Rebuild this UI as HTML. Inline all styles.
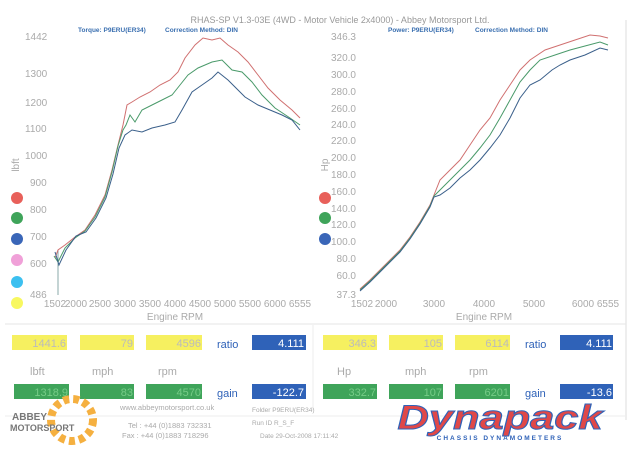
<!DOCTYPE html>
<html><head><meta charset="utf-8"><style>
body{margin:0;background:#fff;width:639px;height:452px;overflow:hidden;font-family:"Liberation Sans",sans-serif}
svg text{font-family:"Liberation Sans",sans-serif}
</style></head><body>
<svg width="639" height="452" viewBox="0 0 639 452" xmlns="http://www.w3.org/2000/svg">
<rect width="639" height="452" fill="#fff"/>
<line x1="626" y1="20" x2="626" y2="420" stroke="#ddd"/>
<line x1="313" y1="325" x2="313" y2="410" stroke="#eee"/>
<line x1="5" y1="324" x2="626" y2="324" stroke="#e6e6e6"/>
<line x1="5" y1="416" x2="626" y2="416" stroke="#eee"/>
<text x="340" y="23" font-size="9" fill="#999" text-anchor="middle">RHAS-SP V1.3-03E  (4WD - Motor Vehicle 2x4000) - Abbey Motorsport Ltd.</text>
<g font-size="6.5" font-weight="bold" fill="#3a6fb0">
<text x="78" y="32">Torque: P9ERU(ER34)</text><text x="165" y="32">Correction Method: DIN</text>
<text x="388" y="32">Power: P9ERU(ER34)</text><text x="475" y="32">Correction Method: DIN</text></g>
<g font-size="10" fill="#aaa">
<text x="25" y="40">1442</text><text x="25" y="77">1300</text><text x="25" y="106">1200</text><text x="25" y="132">1100</text><text x="25" y="159">1000</text><text x="30" y="186">900</text><text x="30" y="213">800</text><text x="30" y="240">700</text><text x="30" y="267">600</text><text x="30" y="298">486</text>
</g>
<g font-size="10" fill="#aaa" text-anchor="end">
<text x="356" y="40">346.3</text><text x="356" y="61">320.0</text><text x="356" y="78">300.0</text><text x="356" y="95">280.0</text><text x="356" y="112">260.0</text><text x="356" y="128">240.0</text><text x="356" y="144">220.0</text><text x="356" y="161">200.0</text><text x="356" y="178">180.0</text><text x="356" y="195">160.0</text><text x="356" y="212">140.0</text><text x="356" y="228">120.0</text><text x="356" y="245">100.0</text><text x="356" y="262">80.0</text><text x="356" y="279">60.0</text><text x="356" y="298">37.3</text>
</g>
<g font-size="10" fill="#aaa" text-anchor="middle">
<text x="55" y="307">1502</text><text x="76" y="307">2000</text><text x="100" y="307">2500</text><text x="125" y="307">3000</text><text x="150" y="307">3500</text><text x="175" y="307">4000</text><text x="200" y="307">4500</text><text x="225" y="307">5000</text><text x="250" y="307">5500</text><text x="275" y="307">6000</text><text x="300" y="307">6555</text>
<text x="175" y="320">Engine RPM</text>
<text x="362" y="307">1502</text><text x="386" y="307">2000</text><text x="434" y="307">3000</text><text x="484" y="307">4000</text><text x="534" y="307">5000</text><text x="583" y="307">6000</text><text x="608" y="307">6555</text>
<text x="484" y="320">Engine RPM</text>
</g>
<text transform="translate(19,165) rotate(-90)" font-size="10" fill="#aaa" text-anchor="middle">lbft</text>
<text transform="translate(328,165) rotate(-90)" font-size="10" fill="#aaa" text-anchor="middle">Hp</text>
<g>
<circle cx="17" cy="198" r="6" fill="#e8605a"/><circle cx="17" cy="218" r="6" fill="#3fa45a"/><circle cx="17" cy="239" r="6" fill="#3a66b8"/><circle cx="17" cy="260" r="6" fill="#f0a0d8"/><circle cx="17" cy="282" r="6" fill="#3cc0f0"/><circle cx="17" cy="303" r="6" fill="#f8f860"/>
<circle cx="325" cy="198" r="6" fill="#e8605a"/><circle cx="325" cy="218" r="6" fill="#3fa45a"/><circle cx="325" cy="239" r="6" fill="#3a66b8"/>
</g>
<g fill="none" stroke-width="1">
<line x1="58" y1="250" x2="58" y2="295" stroke="#8aa"/>
<polyline stroke="#d07070" points="55,258 58,250 65,245 75,237 85,230 95,215 105,195 112,170 118,145 123,125 127,105 132,102 140,97 150,92 160,85 170,80 178,72 185,58 195,45 203,38 212,40 220,38 228,45 238,52 248,62 258,75 268,88 280,100 292,110 300,118"/>
<polyline stroke="#4a9a6a" points="54,256 58,262 65,248 75,238 85,231 95,217 105,197 112,172 118,146 123,130 126,125 130,115 135,122 142,110 152,105 162,100 172,95 180,85 188,75 198,68 212,62 222,60 232,70 242,72 252,82 262,95 275,108 290,118 300,125"/>
<polyline stroke="#3a5f8a" points="55,252 59,265 66,250 76,236 86,232 96,218 106,198 113,174 119,148 125,135 132,130 142,132 152,128 165,125 175,122 182,110 192,92 202,85 212,78 218,72 228,80 236,88 245,97 258,105 270,110 282,115 292,120 300,130"/>
<polyline stroke="#d07070" points="360,289 370,280 385,265 400,250 410,237 420,222 430,205 434,195 440,180 450,170 460,160 470,145 480,130 490,118 500,100 510,85 520,70 530,60 545,50 560,45 575,40 590,35 600,36 608,38"/>
<polyline stroke="#4a9a6a" points="360,290 370,281 385,266 400,251 410,238 420,223 430,206 434,196 440,190 450,180 460,170 470,160 480,148 490,135 500,118 510,100 520,82 530,70 540,60 555,55 570,50 585,46 600,42 608,45"/>
<polyline stroke="#3a5f8a" points="360,291 370,282 385,267 400,252 410,239 420,224 430,207 434,197 440,195 450,188 460,178 470,170 480,160 490,148 500,135 510,118 520,98 530,85 540,80 552,70 560,65 570,60 585,55 600,48 608,50"/>
</g>
<g>
<rect x="12" y="335" width="55" height="15" fill="#f6f060"/><rect x="80" y="335" width="54" height="15" fill="#f6f060"/><rect x="146" y="335" width="56" height="15" fill="#f6f060"/><rect x="252" y="335" width="54" height="15" fill="#2f62b8"/>
<rect x="323" y="335" width="54" height="15" fill="#f6f060"/><rect x="389" y="335" width="54" height="15" fill="#f6f060"/><rect x="455" y="335" width="55" height="15" fill="#f6f060"/><rect x="560" y="335" width="53" height="15" fill="#2f62b8"/>
<rect x="14" y="384" width="55" height="15" fill="#3fa45a"/><rect x="80" y="384" width="54" height="15" fill="#3fa45a"/><rect x="146" y="384" width="56" height="15" fill="#3fa45a"/><rect x="252" y="384" width="54" height="15" fill="#2f62b8"/>
<rect x="323" y="384" width="54" height="15" fill="#3fa45a"/><rect x="389" y="384" width="54" height="15" fill="#3fa45a"/><rect x="455" y="384" width="55" height="15" fill="#3fa45a"/><rect x="560" y="384" width="53" height="15" fill="#2f62b8"/>
</g>
<g font-size="11" text-anchor="end">
<g fill="#bbb"><text x="66" y="347">1441.6</text><text x="133" y="347">79</text><text x="201" y="347">4596</text><text x="376" y="347">346.3</text><text x="442" y="347">105</text><text x="509" y="347">6114</text></g>
<g fill="#fff"><text x="304" y="347">4.111</text><text x="612" y="347">4.111</text><text x="304" y="396">-122.7</text><text x="612" y="396">-13.6</text></g>
<g fill="#7c8"><text x="68" y="396">1318.9</text><text x="133" y="396">83</text><text x="201" y="396">4570</text><text x="376" y="396">332.7</text><text x="442" y="396">107</text><text x="509" y="396">6201</text></g>
</g>
<g font-size="11" fill="#2f62b8"><text x="217" y="348">ratio</text><text x="217" y="397">gain</text><text x="525" y="348">ratio</text><text x="525" y="397">gain</text></g>
<g font-size="11" fill="#aaa"><text x="30" y="375">lbft</text><text x="92" y="375">mph</text><text x="158" y="375">rpm</text><text x="337" y="375">Hp</text><text x="405" y="375">mph</text><text x="469" y="375">rpm</text></g>
<g>
<circle cx="72" cy="420" r="21" fill="none" stroke="#f5b040" stroke-width="8" stroke-dasharray="6 4"/>
<text x="12" y="420" font-size="10" font-weight="bold" fill="#777">ABBEY</text>
<text x="10" y="431" font-size="9" font-weight="bold" fill="#777">MOTORSPORT</text>
</g>
<g font-size="7.5" fill="#aaa"><text x="120" y="410">www.abbeymotorsport.co.uk</text><text x="128" y="428">Tel : +44 (0)1883 732331</text><text x="122" y="438">Fax : +44 (0)1883 718296</text>
<text x="252" y="412" font-size="6.5">Folder  P9ERU(ER34)</text><text x="252" y="425" font-size="6.5">Run ID R_S_F</text><text x="260" y="438" font-size="6.5">Date  29-Oct-2008  17:11:42</text></g>
<text x="500" y="429" font-size="34" font-weight="bold" font-style="italic" fill="#e04848" stroke="#2f62b8" stroke-width="1" text-anchor="middle" textLength="205" lengthAdjust="spacingAndGlyphs">Dynapack</text>
<text x="500" y="440" font-size="6.5" font-weight="bold" fill="#2f62b8" text-anchor="middle" letter-spacing="2">CHASSIS   DYNAMOMETERS</text>
</svg>
</body></html>
